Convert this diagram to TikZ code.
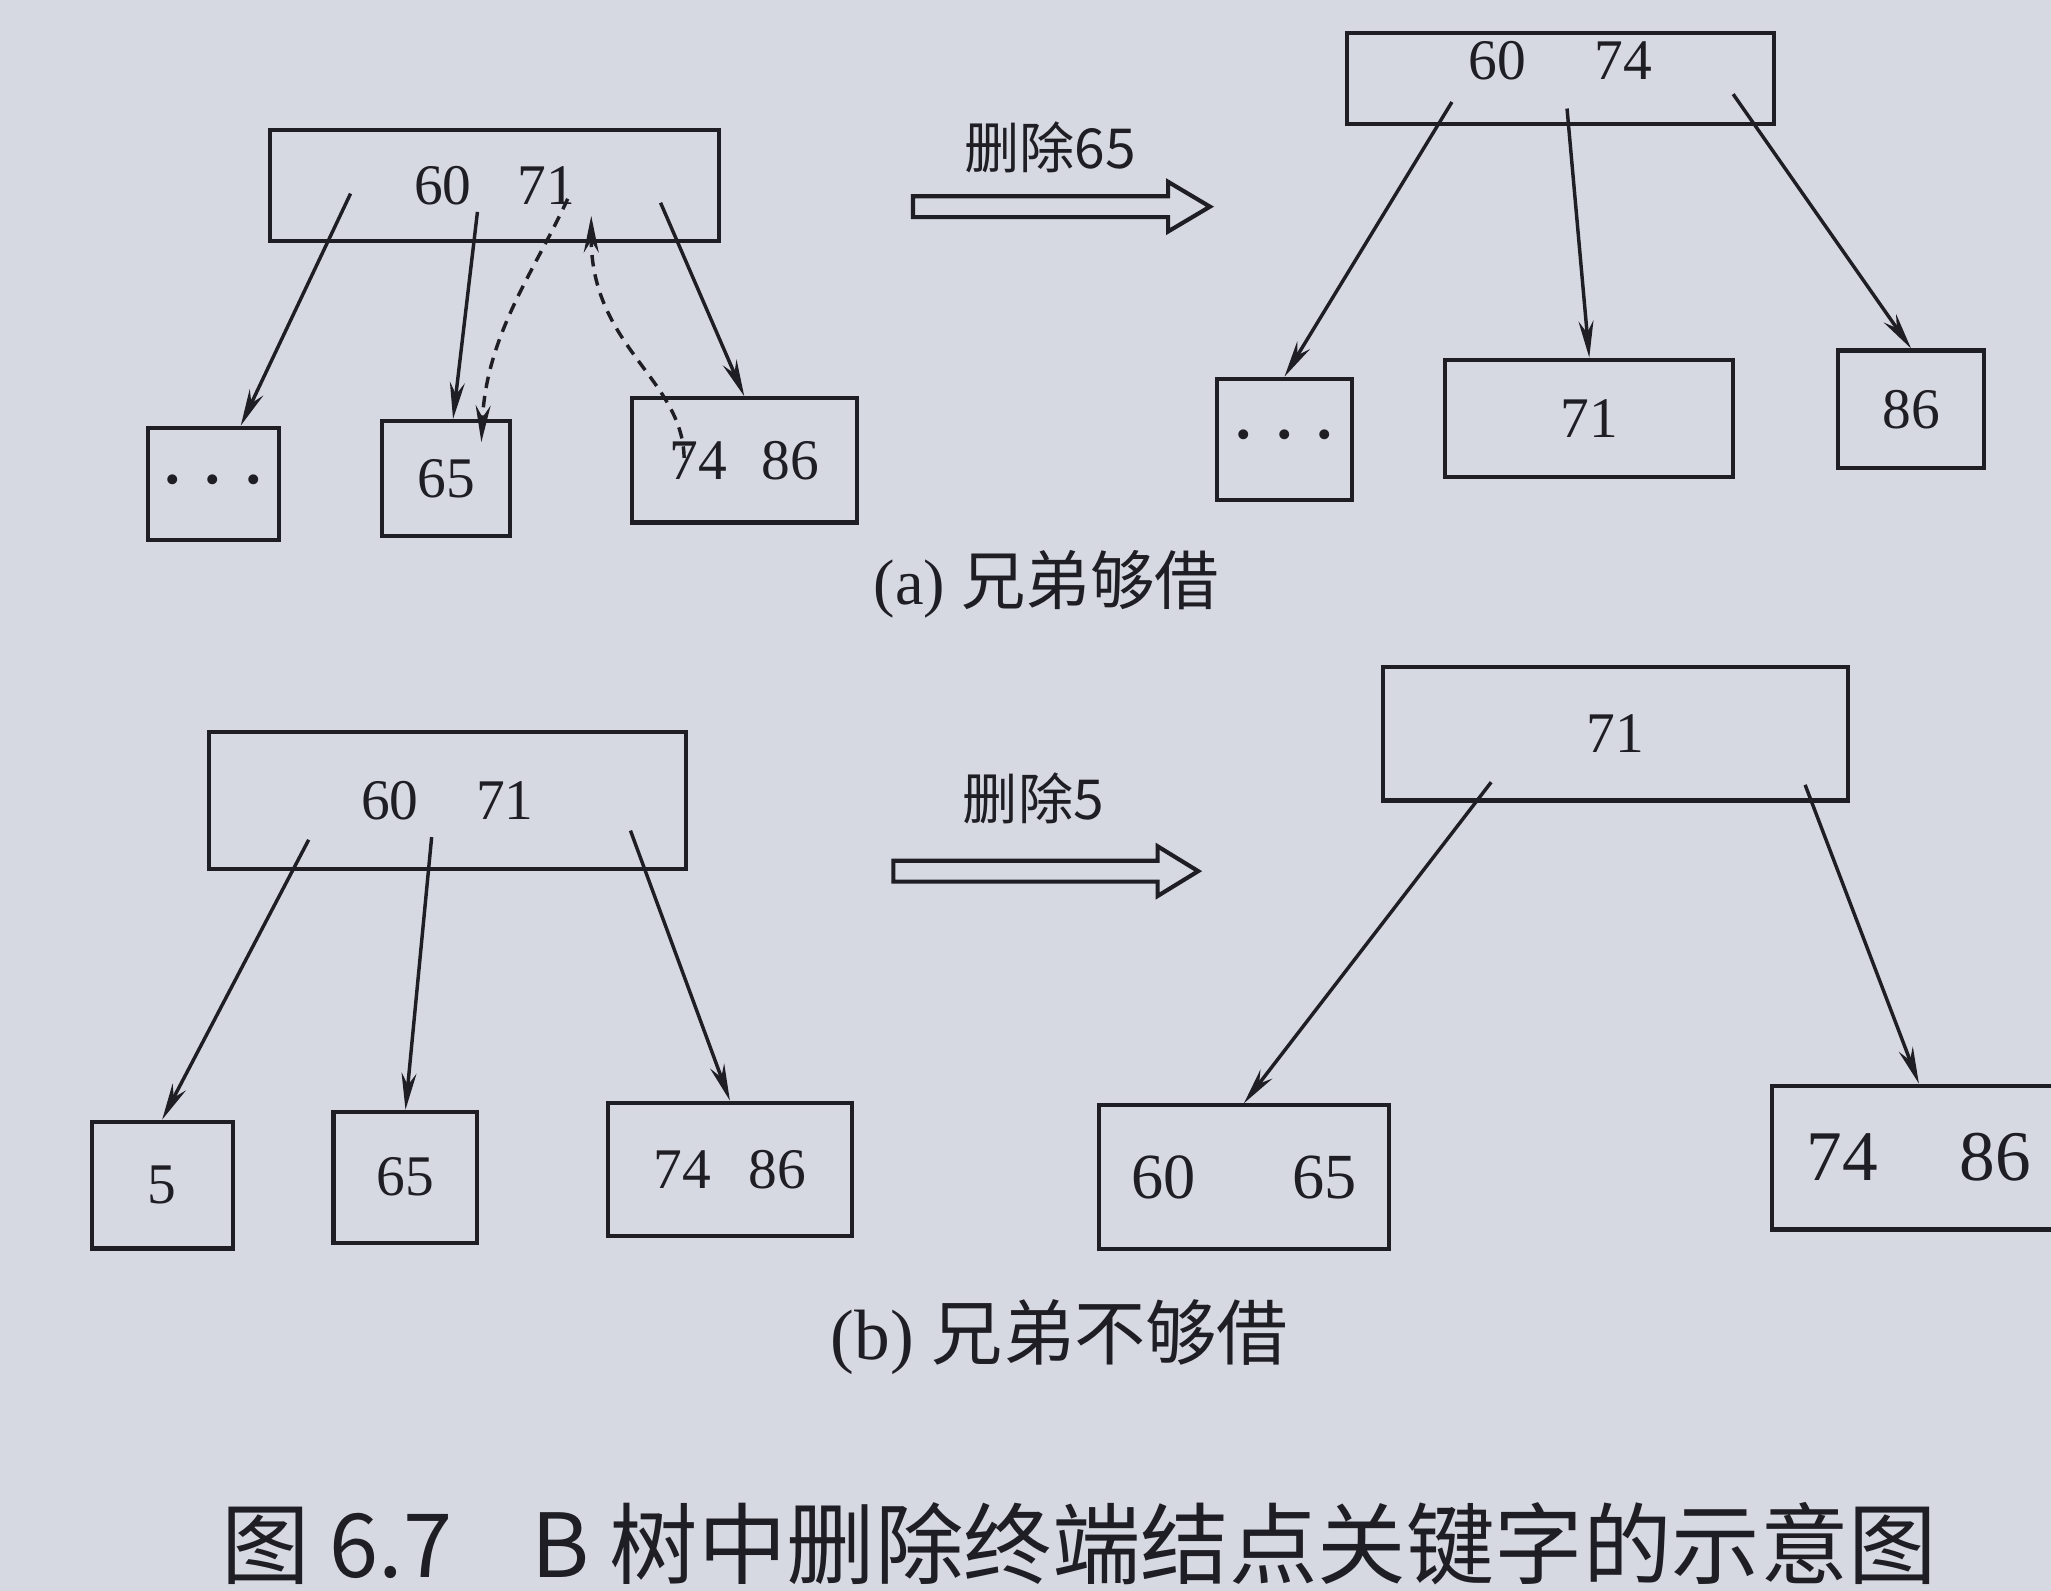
\documentclass[tikz,border=0pt]{standalone}
\usepackage{fontspec}
\setmainfont{Liberation Serif}
\newfontfamily\cjk{Noto Sans CJK SC}
\usetikzlibrary{arrows.meta}
\definecolor{paper}{RGB}{215,217,226}
\definecolor{ink}{RGB}{30,30,36}
\newcommand{\dotbit}{{\fontsize{18}{18}\selectfont\textbullet}}
\newcommand{\dotsrow}{\dotbit\hspace{0.45em}\dotbit\hspace{0.45em}\dotbit}

\begin{document}
\begin{tikzpicture}[x=0.02cm, y=-0.02cm,
		every node/.style={draw=ink, text=ink, rectangle, line width=1.8pt, inner sep=0pt, font=\fontsize{25}{30}\selectfont},
		ptr/.style={draw=ink, line width=1.5pt, -{Stealth[length=16pt,width=6.5pt]}},
		dptr/.style={ptr, dash pattern=on 5pt off 3.5pt},
		hollow/.style={draw=ink, line width=1.8pt, line join=miter}]
		\fill[paper] (0,0) rectangle (1568,1216);
		\useasboundingbox (0,0) rectangle (1568,1216);

		\node (ra) at (378,142) [minimum width=6.86cm, minimum height=1.7cm] {60\hspace{0.8em}71};
		\node (a1) at (163,370) [minimum width=2cm, minimum height=1.72cm] {\dotsrow};
		\node (a2) at (341,366) [minimum width=1.96cm, minimum height=1.76cm] {65};
		\node (a3) at (569,352) [minimum width=3.44cm, minimum height=1.9cm] {74\hspace{0.6em}86};

		\node (rb) at (1193,60) [minimum width=6.54cm, minimum height=1.4cm, text depth=0.55cm] {60\hspace{1.2em}74};
		\node (b1) at (982,336) [minimum width=2.06cm, minimum height=1.86cm] {\dotsrow};
		\node (b2) at (1215,320) [minimum width=4.4cm, minimum height=1.8cm] {71};
		\node (b3) at (1461,313) [minimum width=2.24cm, minimum height=1.8cm] {86};

		\node (rc) at (342,612) [minimum width=7.3cm, minimum height=2.1cm] {60\hspace{1em}71};
		\node (c1) at (124,906) [minimum width=2.16cm, minimum height=1.94cm] {5};
		\node (c2) at (310,900) [minimum width=2.2cm, minimum height=2cm] {65};
		\node (c3) at (558,894) [minimum width=3.74cm, minimum height=2.04cm] {74\hspace{0.65em}86};

		\node (rd) at (1235,561) [minimum width=7.12cm, minimum height=2.04cm] {71};
		\node (d1) at (951,900) [minimum width=4.44cm, minimum height=2.2cm, font=\fontsize{28}{32}\selectfont] {60\hspace{1.5em}65};
		\node (d2) at (1467,885) [minimum width=4.5cm, minimum height=2.2cm, font=\fontsize{31}{36}\selectfont] {74\hspace{1.15em}86};

		\coordinate (ra-1) at (268,148);
		\coordinate (ra-2) at (365,162);
		\coordinate (ra-3) at (505,155);
		\coordinate (ra-k) at (434,152);
		\coordinate (ra-m) at (452,165);
		\coordinate (a2-k) at (368,338);
		\coordinate (a3-k) at (523,350);
		\coordinate (rb-1) at (1110,78);
		\coordinate (rb-2) at (1198,83);
		\coordinate (rb-3) at (1325,72);
		\coordinate (rc-1) at (236,642);
		\coordinate (rc-2) at (330,640);
		\coordinate (rc-3) at (482,635);
		\coordinate (rd-1) at (1140,598);
		\coordinate (rd-2) at (1380,600);

		\draw[ptr] (ra-1) -- (a1);
		\draw[ptr] (ra-2) -- (a2);
		\draw[ptr] (ra-3) -- (a3.north);
		\draw[dptr] (ra-k) .. controls (410,205) and (372,255) .. (a2-k);
		\draw[dptr] (a3-k) .. controls (522,290) and (452,265) .. (ra-m);

		\draw[ptr] (rb-1) -- (b1.north);
		\draw[ptr] (rb-2) -- (b2.north);
		\draw[ptr] (rb-3) -- (b3.north);

		\draw[ptr] (rc-1) -- (c1.north);
		\draw[ptr] (rc-2) -- (c2.north);
		\draw[ptr] (rc-3) -- (c3.north);

		\draw[ptr] (rd-1) -- (d1.north);
		\draw[ptr] (rd-2) -- (d2.north);

		\draw[hollow] (698,150) -- (893,150) -- (893,139) -- (925,158) -- (893,177) -- (893,166) -- (698,166) -- cycle;
		\draw[hollow] (683,658) -- (885,658) -- (885,647) -- (916,666) -- (885,685) -- (885,674) -- (683,674) -- cycle;

		\node[draw=none] (opa) at (803,113) {\fontsize{24}{28}\selectfont\cjk 删除65};
		\node[draw=none] (opb) at (790,610) {\fontsize{24}{28}\selectfont\cjk 删除5};

		\node[draw=none] (capa) at (800,447) {\fontsize{28}{32}\selectfont (a) {\cjk 兄弟够借}};
		\node[draw=none] (capb) at (810,1022) {\fontsize{31}{36}\selectfont (b) {\cjk 兄弟不够借}};
		\node[draw=none] (title) at (825,1180) {\fontsize{38.5}{46}\selectfont\cjk 图 6.7\hspace{0.9em}B 树中删除终端结点关键字的示意图};
	\end{tikzpicture}
\end{document}
